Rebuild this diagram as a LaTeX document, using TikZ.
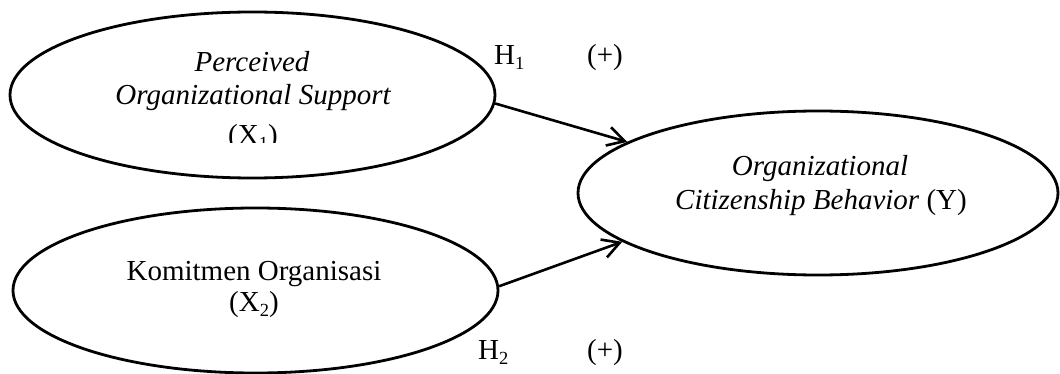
\documentclass[tikz,border=0pt]{standalone}
\usepackage{fontspec}
\setmainfont{Liberation Serif}
\usetikzlibrary{shapes.geometric,arrows.meta}

% subscript set the way a word processor does it
\newcommand{\lowsub}[1]{\raisebox{-5pt}{\fontsize{18.5}{18.5}\selectfont #1}}

\tikzset{
  construct/.style={ellipse, draw, line width=2.8pt, inner sep=0pt},
  label/.style={anchor=base, inner sep=0pt, font=\fontsize{29}{34}\selectfont},
  path/.style={line width=2.6pt, -{Straight Barb[length=17pt,width=19pt]}}
}

\begin{document}
\begin{tikzpicture}[x=1pt, y=-1pt]
  \useasboundingbox (0,0) rectangle (1060,374);

  % latent variables
  \node[construct, minimum width=485pt, minimum height=166pt] (pos) at (252.5,95) {};
  \node[construct, minimum width=485pt, minimum height=165pt] (kom) at (255.5,290.5) {};
  \node[construct, minimum width=480pt, minimum height=164pt] (ocb) at (818,193) {};

  % X1 text
  \node[label] (posA) at (252,72) {\itshape Perceived};
  \node[label] (posB) at (253,105) {\itshape Organizational Support};
  \begin{scope}
    \clip (0,0) rectangle (520,143);
    \node[label] (posC) at (253,145) {(X\lowsub{1})};
  \end{scope}

  % X2 text
  \node[label] (komA) at (254,280) {Komitmen Organisasi};
  \node[label] (komB) at (254,311) {(X\lowsub{2})};

  % Y text
  \node[label] (ocbA) at (820,176) {\itshape Organizational};
  \node[label] (ocbB) at (821,210) {\itshape Citizenship Behavior\/ \upshape(Y)};

  % hypothesised paths
  \draw[path] (pos.-2) -- (ocb.165.6);
  \draw[path] (kom.1) -- (ocb.194.5);

  % hypothesis labels
  \node[label, anchor=base west] (h1) at (494,65) {H\lowsub{1}};
  \node[label] (s1) at (605,65) {(+)};
  \node[label, anchor=base west] (h2) at (478,359) {H\lowsub{2}};
  \node[label] (s2) at (605,359) {(+)};
\end{tikzpicture}
\end{document}
